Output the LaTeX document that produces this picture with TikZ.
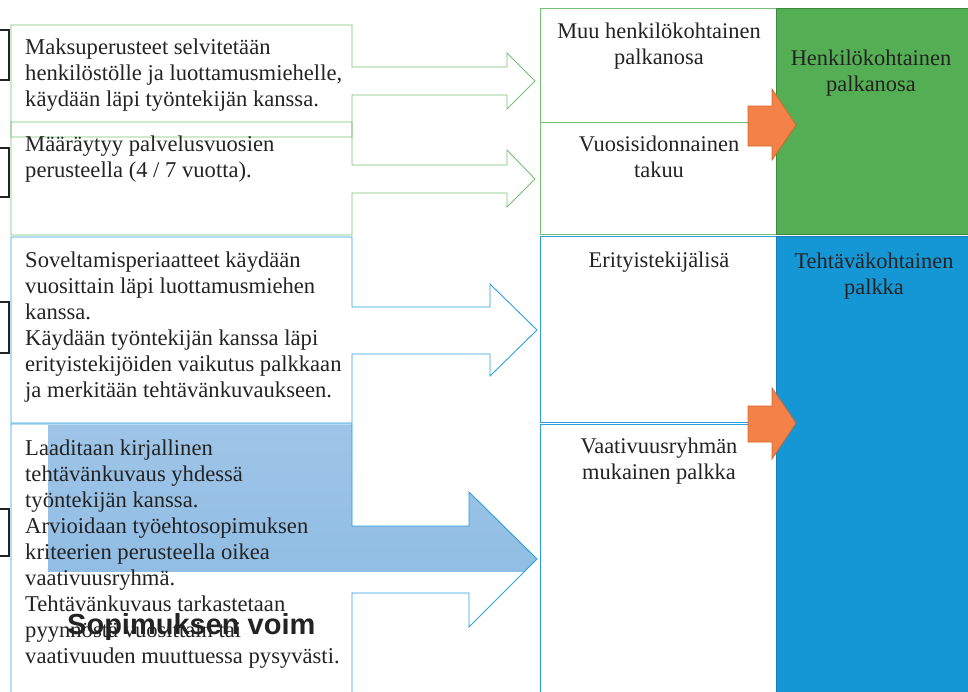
\documentclass[tikz,border=0pt]{standalone}
\usepackage{fontspec}
\setmainfont{Liberation Serif}
\newfontfamily\headfont{Liberation Sans}

\definecolor{boxgreen}{RGB}{118,192,118}
\definecolor{boxblue}{RGB}{42,158,222}
\definecolor{colgreen}{RGB}{84,174,84}
\definecolor{colgreenline}{RGB}{60,138,60}
\definecolor{colblue}{RGB}{21,151,213}
\definecolor{colblueline}{RGB}{25,125,185}
\definecolor{arroworange}{RGB}{242,130,72}
\definecolor{arrowline}{RGB}{214,102,46}
\definecolor{filltop}{RGB}{158,197,231}
\definecolor{fillbottom}{RGB}{134,182,225}
\definecolor{txt}{RGB}{35,35,35}

\newcommand{\tstrut}{\rule{0pt}{21pt}}

\tikzset{
  greenbox/.style={draw=boxgreen, line width=0.9pt},
  bluebox/.style={draw=boxblue, line width=0.9pt},
  bracket/.style={draw=txt, line width=1.6pt},
  steptext/.style={anchor=north west, inner sep=0pt, align=left, text=txt,
    font=\fontsize{22.6}{26}\selectfont},
  parttext/.style={anchor=north, inner sep=0pt, align=center, text=txt,
    font=\fontsize{22.4}{26}\selectfont},
  orangearrow/.style={fill=arroworange, draw=arrowline, line width=0.8pt},
}

\begin{document}
\begin{tikzpicture}[x=1pt, y=-1pt]
  \useasboundingbox (0,0) rectangle (968,691);
  \clip (0,0) rectangle (968,691);

  % brackets on the left edge
  \draw[bracket] (-3,30) -- (9,30) -- (9,80) -- (-3,80);
  \draw[bracket] (-3,148) -- (9,148) -- (9,197) -- (-3,197);
  \draw[bracket] (-3,302) -- (9,302) -- (9,353) -- (-3,353);
  \draw[bracket] (-3,509) -- (9,509) -- (9,556) -- (-3,556);

  % shaded arrow behind the last box
  \begin{scope}
    \clip (0,0) rectangle (968,571);
    \shade[top color=filltop, bottom color=fillbottom]
      (48,425) -- (352,425) -- (352,526) -- (469,526) -- (469,492) -- (537,559)
      -- (469,627) -- (469,593) -- (352,593) -- (352,700) -- (48,700) -- cycle;
  \end{scope}

  % callout boxes
  \draw[greenbox] (11,25) -- (352,25) -- (352,67) -- (507,67) -- (507,53) -- (535,81)
    -- (507,109) -- (507,95) -- (352,95) -- (352,137) -- (11,137) -- cycle;
  \draw[greenbox] (11,122) -- (352,122) -- (352,165) -- (507,165) -- (507,150) -- (535,179)
    -- (507,207) -- (507,193) -- (352,193) -- (352,235) -- (11,235) -- cycle;
  \draw[bluebox] (11,237) -- (352,237) -- (352,307) -- (490,307) -- (490,284) -- (537,330)
    -- (490,376) -- (490,354) -- (352,354) -- (352,423) -- (11,423) -- cycle;
  \draw[bluebox] (11,424) -- (352,424) -- (352,526) -- (469,526) -- (469,492) -- (537,559)
    -- (469,627) -- (469,593) -- (352,593) -- (352,700) -- (11,700) -- cycle;

  % middle column
  \draw[greenbox] (540,8) rectangle (776,122);
  \draw[greenbox] (540,122) rectangle (776,234);
  \draw[bluebox] (540,236) rectangle (776,422);
  \draw[bluebox] (540,424) rectangle (776,700);

  % right column
  \draw[fill=colgreen, draw=colgreenline, line width=1pt] (776,8) rectangle (975,234);
  \draw[fill=colblue, draw=colblueline, line width=1pt] (776,236) rectangle (975,700);

  % orange arrows
  \draw[orangearrow] (748,106) -- (772,106) -- (772,89) -- (796,125) -- (772,160)
    -- (772,146) -- (748,146) -- cycle;
  \draw[orangearrow] (748,406) -- (772,406) -- (772,388) -- (796,423) -- (772,459)
    -- (772,442) -- (748,442) -- cycle;

  % texts of the steps
  \node[steptext] (maksu) at (25,33) {\tstrut Maksuperusteet selvitetään\\
    henkilöstölle ja luottamusmiehelle,\\käydään läpi työntekijän kanssa.};
  \node[steptext] (vuodet) at (25,130) {\tstrut Määräytyy palvelusvuosien\\
    perusteella (4 / 7 vuotta).};
  \node[steptext] (sovellus) at (25,246) {\tstrut Soveltamisperiaatteet käydään\\
    vuosittain läpi luottamusmiehen\\kanssa.\\Käydään työntekijän kanssa läpi\\
    erityistekijöiden vaikutus palkkaan\\ja merkitään tehtävänkuvaukseen.};
  \node[steptext] (kuvaus) at (25,434) {\tstrut Laaditaan kirjallinen\\
    tehtävänkuvaus yhdessä\\työntekijän kanssa.\\Arvioidaan työehtosopimuksen\\
    kriteerien perusteella oikea\\vaativuusryhmä.\\Tehtävänkuvaus tarkastetaan\\
    pyynnöstä vuosittain tai\\vaativuuden muuttuessa pysyvästi.};

  % texts of the pay parts
  \node[parttext] (muu) at (659,17) {\tstrut Muu henkilökohtainen\\palkanosa};
  \node[parttext] (takuu) at (659,130) {\tstrut Vuosisidonnainen\\takuu};
  \node[parttext] (erity) at (659,246) {\tstrut Erityistekijälisä};
  \node[parttext] (vaativ) at (659,432) {\tstrut Vaativuusryhmän\\mukainen palkka};
  \node[parttext] (henk) at (871,44) {\tstrut Henkilökohtainen\\palkanosa};
  \node[parttext] (tehtava) at (874,247) {\tstrut Tehtäväkohtainen\\palkka};

  \node[anchor=base west, inner sep=0pt, text=txt,
    font=\headfont\bfseries\fontsize{29}{32}\selectfont] (sopimus) at (67,634) {Sopimuksen voim};
\end{tikzpicture}
\end{document}
